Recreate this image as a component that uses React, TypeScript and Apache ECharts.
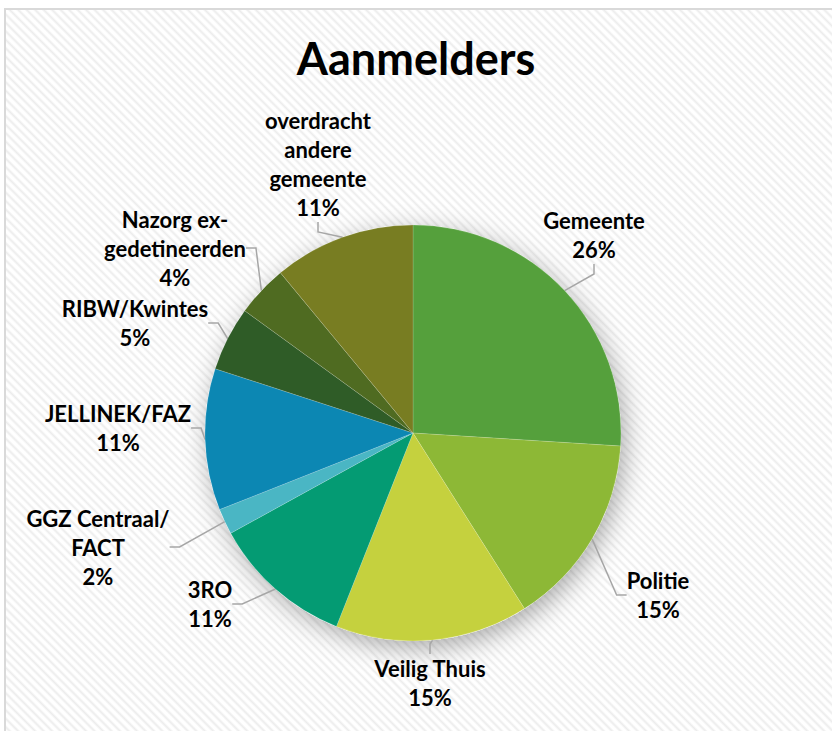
import React, { useEffect, useRef } from "react";
import * as echarts from "echarts";

const categories = [
  "Gemeente",
  "Politie",
  "Veilig Thuis",
  "3RO",
  "GGZ Centraal/\nFACT",
  "JELLINEK/FAZ",
  "RIBW/Kwintes",
  "Nazorg ex-\ngedetineerden",
  "overdracht\nandere\ngemeente",
];
const percentages = [26, 15, 15, 11, 2, 11, 5, 4, 11];
const sliceColors = [
  "#55A03C",
  "#8DB836",
  "#C5D13E",
  "#049B73",
  "#4AB6C4",
  "#0C87B3",
  "#2F5C27",
  "#4F6B21",
  "#787D22",
];
// label centre positions (x, y) in px, Excel-style manual placement
const labelCenters: [number, number][] = [
  [594, 235],
  [658, 595],
  [430, 683],
  [210, 604],
  [98, 547],
  [118, 428],
  [135, 323],
  [175, 248],
  [318, 164],
];

export default function App() {
  const ref = useRef<HTMLDivElement>(null);
  useEffect(() => {
    document.body.style.margin = "0";
    const chart = echarts.init(ref.current!, null, { renderer: "svg" });
    const font = "Lato, 'Open Sans', sans-serif";
    chart.setOption({
      animation: false,
      backgroundColor: "transparent",
      title: {
        text: "Aanmelders",
        left: "center",
        top: 30,
        textStyle: { fontFamily: font, fontWeight: "bold", fontSize: 45, color: "#000" },
      },
      series: [
        {
          type: "pie",
          silent: true,
          center: [413, 433],
          radius: 208,
          z: 1,
          label: { show: false },
          labelLine: { show: false },
          itemStyle: {
            color: "#ffffff",
            shadowBlur: 26,
            shadowOffsetX: 4,
            shadowOffsetY: 7,
            shadowColor: "rgba(0,0,0,0.33)",
          },
          data: [{ value: 1, name: "shadow" }],
        },
        {
          type: "pie",
          z: 2,
          center: [413, 433],
          radius: 208,
          startAngle: 90,
          clockwise: true,
          itemStyle: { borderColor: "rgba(255,255,255,0.25)", borderWidth: 0.6 },
          label: {
            show: true,
            position: "outside",
            formatter: (p: any) => `${p.name}\n${p.value}%`,
            fontFamily: font,
            fontWeight: "bold",
            fontSize: 22,
            lineHeight: 29,
            color: "#000",
            align: "center",
          },
          labelLine: {
            show: true,
            length: 15,
            length2: 10,
            lineStyle: { color: "#A6A6A6", width: 1.5 },
          },
          labelLayout: (params: any) => {
            const c = labelCenters[params.dataIndex];
            return { x: c[0], y: c[1], align: "center", verticalAlign: "middle" };
          },
          data: categories.map((name, i) => ({
            name,
            value: percentages[i],
            itemStyle: { color: sliceColors[i] },
          })),
        },
      ],
    });
    return () => chart.dispose();
  }, []);
  return (
    <div style={{ position: "relative", width: 832, height: 731, background: "#fff", overflow: "hidden" }}>
      <div
        style={{
          position: "absolute",
          left: 4,
          top: 8,
          width: 840,
          height: 740,
          borderTop: "2px solid #d9d9d9",
          borderLeft: "2px solid #d9d9d9",
          background:
            "repeating-linear-gradient(45deg, #ffffff 0px, #ffffff 2px, #ececec 4px, #ffffff 6px)",
        }}
      />
      <div ref={ref} style={{ position: "absolute", left: 0, top: 0, width: 832, height: 731 }} />
    </div>
  );
}
